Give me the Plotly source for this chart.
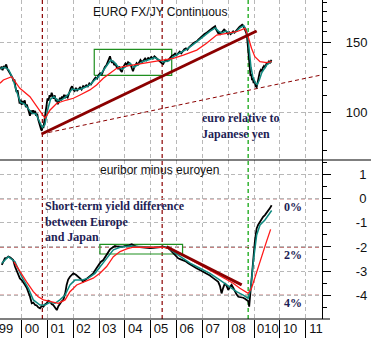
import math
import plotly.graph_objects as go

# ---------------- data (decimal years) ----------------
fx_years = [1999.17,1999.22,1999.26,1999.31,1999.36,1999.40,1999.45,1999.50,1999.55,1999.59,1999.64,1999.68,1999.72,1999.76,1999.80,1999.84,1999.88,1999.92,1999.96,
            2000.00,2000.04,2000.08,2000.12,2000.16,2000.20,2000.24,2000.28,2000.32,2000.36,2000.40,2000.44,2000.48,2000.52,2000.56,2000.60,2000.64,2000.68,2000.72,2000.75,2000.78,2000.81,2000.84,2000.87,2000.90,2000.94,2000.97,
            2001.00,2001.04,2001.08,2001.12,2001.16,2001.20,2001.24,2001.28,2001.32,2001.36,2001.40,2001.44,2001.48,2001.52,2001.56,2001.60,2001.64,2001.68,2001.72,2001.78,2001.84,2001.90,2001.95,
            2002.00,2002.05,2002.10,2002.15,2002.20,2002.26,2002.32,2002.38,2002.44,2002.50,2002.56,2002.62,2002.68,2002.74,2002.80,2002.86,2002.92,2002.98,
            2003.04,2003.10,2003.16,2003.22,2003.28,2003.34,2003.38,2003.42,2003.46,2003.50,2003.54,2003.58,2003.63,2003.68,2003.73,2003.78,2003.83,2003.88,2003.92,2003.97,
            2004.02,2004.07,2004.12,2004.17,2004.22,2004.27,2004.31,2004.35,2004.40,2004.45,2004.50,2004.55,2004.60,2004.66,2004.72,2004.78,2004.84,2004.90,2004.96,
            2005.02,2005.08,2005.14,2005.20,2005.26,2005.32,2005.38,2005.43,2005.48,2005.53,2005.58,2005.64,2005.70,2005.76,2005.82,2005.88,2005.94,
            2006.00,2006.06,2006.12,2006.18,2006.24,2006.30,2006.36,2006.42,2006.48,2006.54,2006.60,2006.66,2006.72,2006.78,2006.84,2006.90,2006.96,
            2007.02,2007.08,2007.14,2007.20,2007.26,2007.32,2007.38,2007.44,2007.49,2007.53,2007.57,2007.61,2007.65,2007.69,2007.74,2007.79,2007.84,2007.89,2007.94,2007.99,
            2008.04,2008.09,2008.14,2008.19,2008.24,2008.29,2008.34,2008.39,2008.44,2008.49,2008.54,2008.58,2008.62,2008.66,2008.70,2008.73,2008.75,2008.77,2008.79,2008.81,2008.83,2008.86,2008.89,2008.92,2008.95,2008.98,
            2009.01,2009.04,2009.07,2009.10,2009.13,2009.16,2009.19,2009.22,2009.26,2009.30,2009.34,2009.38,2009.42,2009.46,2009.50,2009.54,2009.58,2009.62,2009.66,2009.68]
fx_close = [128.5,130.5,127.8,131.0,129.5,132.2,128.6,127.0,125.8,123.5,122.4,119.8,121.0,115.5,112.5,113.8,108.0,105.2,107.6,
            104.5,106.8,105.0,107.2,103.0,104.6,101.5,100.2,98.0,101.0,99.0,101.2,99.5,100.8,98.0,99.2,95.8,93.5,92.0,90.5,89.8,92.5,91.2,94.0,96.0,99.5,104.0,
            108.5,107.0,110.5,109.2,112.0,110.0,108.2,110.4,106.5,108.0,104.8,106.2,108.8,107.0,109.6,108.2,110.8,108.6,110.0,109.0,112.5,115.0,116.4,
            114.0,113.2,115.2,113.5,114.8,115.6,114.2,116.5,115.8,117.0,116.2,118.4,117.6,119.8,121.0,122.4,121.6,124.2,
            125.5,124.6,127.8,130.2,131.5,135.0,137.2,138.6,135.0,133.4,134.8,131.6,132.8,130.0,129.0,130.5,127.6,126.5,129.8,131.5,
            133.0,131.8,134.0,133.2,132.0,129.0,127.0,129.5,131.8,133.2,132.0,134.4,135.6,133.8,135.0,136.8,135.4,137.2,136.6,
            138.0,136.8,138.6,137.4,136.0,135.2,134.0,133.0,132.5,134.6,135.8,134.8,136.2,137.8,139.0,139.6,140.8,
            139.6,141.2,142.4,141.0,143.2,144.4,145.2,144.0,146.0,147.4,148.6,149.8,150.6,151.2,152.6,154.0,155.2,
            156.0,157.8,158.6,160.0,161.4,162.0,163.2,164.2,165.2,162.0,160.4,158.5,160.0,157.8,159.2,160.6,162.0,161.0,159.4,157.8,
            159.2,157.6,158.8,160.2,159.0,160.6,162.0,163.6,164.8,165.6,166.6,165.8,163.8,161.6,158.6,154.5,149.0,143.0,137.0,131.5,127.0,123.5,125.0,120.5,122.0,118.5,
            120.0,117.5,116.2,115.8,118.5,121.5,124.0,126.5,128.0,127.0,129.8,131.0,129.5,132.5,133.8,132.6,134.5,133.6,135.0,134.6]

fx_short_years = [1999.17,1999.35,1999.50,1999.65,1999.80,1999.95,2000.10,2000.25,2000.40,2000.55,2000.70,2000.80,2000.90,2001.00,2001.12,2001.25,2001.40,2001.55,2001.75,2001.95,
                  2002.10,2002.30,2002.50,2002.65,2002.85,2003.05,2003.25,2003.45,2003.60,2003.75,2003.90,2004.05,2004.20,2004.35,2004.50,2004.70,2004.95,2005.15,2005.35,2005.50,2005.70,2005.90,
                  2006.15,2006.40,2006.65,2006.90,2007.10,2007.30,2007.50,2007.62,2007.75,2007.90,2008.08,2008.28,2008.45,2008.60,2008.70,2008.76,2008.82,2008.88,2008.95,2009.05,2009.12,2009.20,2009.30,2009.40,2009.50,2009.60,2009.68]
fx_short = [129.0,130.0,128.0,122.0,113.0,106.0,105.0,102.0,99.5,99.0,94.0,91.5,93.0,101.0,108.0,109.5,107.0,107.5,110.0,114.5,
            114.0,114.5,116.0,117.5,121.0,124.5,130.0,135.5,133.5,130.0,128.5,131.0,133.0,130.0,132.0,134.5,136.0,137.5,135.5,134.0,135.0,138.5,
            141.5,144.5,148.5,153.0,157.5,160.5,163.5,160.5,158.5,160.5,158.5,159.5,163.5,165.5,162.0,155.0,142.0,130.0,123.0,118.5,117.5,120.5,126.0,129.5,132.0,133.5,134.0]

fx_long_years = [1999.16,1999.29,1999.61,1999.93,2000.32,2000.58,2000.84,2000.90,2001.10,2001.36,2001.74,2002.00,2002.26,2002.64,2002.90,2003.16,2003.42,2003.68,2003.93,
                 2004.32,2004.84,2005.48,2005.87,2006.26,2006.78,2007.16,2007.55,2007.94,2008.32,2008.65,2008.77,2008.90,2009.03,2009.23,2009.48,2009.68]
fx_long = [118.4,120.7,123.0,115.0,109.5,103.3,97.5,96.6,101.3,105.4,107.4,108.5,110.6,113.9,117.2,121.9,125.5,129.2,130.4,
           131.7,133.0,135.6,136.9,139.6,143.7,149.5,156.9,158.4,159.9,163.1,155.3,145.2,138.2,134.3,133.5,134.3]

sp_years = [1999.23,1999.30,1999.35,1999.42,1999.48,1999.56,1999.62,1999.67,1999.74,1999.80,1999.87,1999.93,2000.00,2000.06,2000.13,2000.20,2000.26,2000.32,2000.39,2000.45,2000.52,2000.58,2000.64,2000.71,2000.77,2000.84,2000.90,2000.97,
            2001.03,2001.10,2001.16,2001.22,2001.29,2001.36,2001.42,2001.48,2001.55,2001.61,2001.68,2001.74,2001.80,2001.87,2001.94,2002.00,2002.10,2002.19,2002.28,2002.38,2002.48,2002.58,2002.68,2002.77,2002.87,2002.97,
            2003.06,2003.16,2003.26,2003.35,2003.42,2003.48,2003.55,2003.61,2003.71,2003.81,2003.94,2004.07,2004.16,2004.26,2004.36,2004.45,2004.58,2004.71,2004.84,2004.97,2005.10,2005.23,2005.36,2005.48,2005.58,2005.68,2005.77,2005.87,2005.97,
            2006.06,2006.16,2006.26,2006.36,2006.45,2006.55,2006.64,2006.77,2006.90,2007.03,2007.16,2007.29,2007.42,2007.52,2007.61,2007.68,2007.74,2007.80,2007.87,2007.94,2008.00,2008.06,2008.13,2008.20,2008.26,2008.32,2008.39,2008.48,2008.58,2008.66,2008.73,2008.78,2008.81,2008.84,2008.87,2008.90,2008.94,2008.98,
            2009.03,2009.07,2009.10,2009.16,2009.23,2009.29,2009.35,2009.42,2009.48,2009.55,2009.61,2009.68]
sp_diff = [-2.74,-2.55,-2.47,-2.45,-2.40,-2.44,-2.52,-2.54,-2.81,-2.95,-3.16,-3.30,-3.37,-3.45,-3.57,-3.70,-3.85,-4.05,-4.33,-4.30,-4.40,-4.42,-4.50,-4.54,-4.45,-4.47,-4.38,-4.33,
           -4.22,-4.26,-4.36,-4.40,-4.50,-4.61,-4.45,-4.33,-4.25,-4.19,-3.95,-3.57,-3.35,-3.23,-3.15,-3.09,-3.15,-3.23,-3.32,-3.44,-3.35,-3.29,-3.20,-3.09,-2.92,-2.74,
           -2.62,-2.54,-2.36,-2.19,-2.10,-2.05,-1.98,-1.96,-1.98,-1.99,-1.97,-1.96,-1.93,-1.89,-1.94,-1.99,-2.01,-2.03,-2.04,-2.05,-2.04,-2.03,-2.01,-1.99,-2.02,-2.05,-2.14,-2.26,-2.38,
           -2.47,-2.51,-2.54,-2.60,-2.67,-2.74,-2.81,-2.88,-2.95,-3.02,-3.09,-3.18,-3.29,-3.36,-3.44,-3.62,-3.92,-3.70,-3.50,-3.62,-3.78,-3.66,-3.57,-3.70,-3.85,-3.96,-4.06,-4.08,-4.10,-4.15,-4.19,-4.25,-4.47,-4.10,-3.44,-3.10,-2.74,-2.25,
           -1.78,-1.45,-1.23,-1.08,-0.95,-0.85,-0.75,-0.68,-0.60,-0.50,-0.40,-0.27]

sp_short_years = [1999.23,1999.48,1999.74,2000.00,2000.26,2000.45,2000.71,2000.90,2001.10,2001.29,2001.48,2001.68,2001.87,2002.06,2002.32,2002.58,2002.84,2003.03,2003.29,2003.55,2003.81,
                  2004.19,2004.58,2005.10,2005.61,2005.87,2006.13,2006.52,2006.90,2007.29,2007.68,2008.06,2008.32,2008.58,2008.77,2008.87,2008.97,2009.10,2009.23,2009.42,2009.61,2009.68]
sp_short = [-2.67,-2.40,-2.61,-3.23,-3.71,-4.19,-4.40,-4.40,-4.29,-4.33,-4.19,-3.99,-3.57,-3.37,-3.37,-3.29,-3.09,-2.81,-2.47,-2.12,-2.01,
            -1.96,-1.99,-2.01,-2.01,-2.19,-2.40,-2.67,-2.88,-3.09,-3.37,-3.64,-3.85,-3.99,-4.12,-3.71,-2.61,-1.50,-1.09,-0.88,-0.60,-0.49]

sp_long_years = [1999.70,1999.93,2000.19,2000.45,2000.64,2000.84,2001.10,2001.42,2001.68,2001.87,2002.13,2002.45,2002.77,2003.03,2003.29,2003.55,2003.81,2004.07,2004.32,2004.84,2005.48,
                 2005.87,2006.26,2006.64,2007.03,2007.42,2007.81,2008.19,2008.45,2008.77,2008.90,2009.10,2009.29,2009.48,2009.64]
sp_long = [-2.62,-3.02,-3.44,-3.85,-4.06,-4.19,-4.26,-4.33,-4.19,-3.85,-3.57,-3.44,-3.29,-3.09,-2.81,-2.40,-2.19,-2.08,-2.01,-2.01,-2.01,
           -2.12,-2.33,-2.58,-2.81,-3.05,-3.27,-3.50,-3.71,-3.92,-3.71,-3.02,-2.33,-1.78,-1.27]

fx_trend_years = [2000.77, 2009.10]
fx_trend_vals = [88.1, 160.6]
fx_floor_years = [2000.77, 2011.61]
fx_floor_vals = [88.1, 124.3]
sp_trend_years = [2005.61, 2008.52]
sp_trend_vals = [-1.99, -3.57]

fx_box_years = [2002.81, 2005.81]
fx_box_vals = [124.0, 144.3]
sp_box_years = [2003.03, 2006.23]
sp_box_vals = [-2.29, -1.89]

red_event_years = [2000.80, 2005.44]
green_event_years = [2008.77]
rate_levels = [0, -2, -4]
level_labels = ["0%", "2%", "4%"]

year_starts = list(range(1999, 2012))
year_labels = ["99", "00", "01", "02", "03", "04", "05", "06", "07", "08", "010", "10", "11"]

fx_ticks = [100, 150]
fx_minor = [80, 90, 110, 120, 130, 140, 160, 170, 180, 190]
sp_ticks = [-4, -3, -2, -1, 0, 1]
sp_ticktext = ["-4", "-3", "-2", "-1", "\u00a00", "\u00a01"]
sp_minor = [-4.5, -3.5, -2.5, -1.5, -0.5, 0.5, 1.5]

# ---------------- layout constants ----------------
W, H = 371, 338
ML, MR, MT, MB = 0, 49, 0, 19
PW, PH = W - ML - MR, H - MT - MB
SPLIT = (PH - 160) / PH
X_RANGE = [1999.16, 2011.63]
PX_PER_YEAR = PW / (X_RANGE[1] - X_RANGE[0])

DARKRED = "#8b0000"
TEAL = "#0f8a80"
RED = "#ff1a1a"
GREEN = "#1f8f1f"
GRID = "#b8b8b8"
NAVY = "#1e1e55"
SANS = "Arial, Liberation Sans, sans-serif"
SERIF = "Times New Roman, Liberation Serif, serif"

fig = go.Figure()

def line(x, y, color, width, ax, dash="solid"):
    fig.add_trace(go.Scatter(x=x, y=y, mode="lines", line=dict(color=color, width=width, dash=dash),
                             xaxis=ax[0], yaxis=ax[1], showlegend=False, hoverinfo="skip"))

def box(xs, ys, ax):
    line([xs[0], xs[1], xs[1], xs[0], xs[0]], [ys[0], ys[0], ys[1], ys[1], ys[0]], GREEN, 1.2, ax)

TOP = ("x", "y")
BOT = ("x2", "y2")

# top panel
line(fx_floor_years, fx_floor_vals, DARKRED, 1, TOP, dash="4px,3px")
box(fx_box_years, fx_box_vals, TOP)
line(fx_years, fx_close, "#000000", 1.8, TOP)
line(fx_short_years, fx_short, TEAL, 1.5, TOP)
line(fx_long_years, fx_long, RED, 1.3, TOP)
line(fx_trend_years, fx_trend_vals, DARKRED, 3, TOP)

# bottom panel
box(sp_box_years, sp_box_vals, BOT)
line(sp_years, sp_diff, "#000000", 1.8, BOT)
line(sp_short_years, sp_short, TEAL, 1.5, BOT)
line(sp_long_years, sp_long, RED, 1.3, BOT)
line(sp_trend_years, sp_trend_vals, DARKRED, 3, BOT)

shapes = []
for yr in red_event_years:
    shapes.append(dict(type="line", xref="x2", yref="paper", x0=yr, x1=yr, y0=0, y1=1,
                       line=dict(color=DARKRED, width=1.2, dash="4px,3px"), layer="below"))
for yr in green_event_years:
    shapes.append(dict(type="line", xref="x2", yref="paper", x0=yr, x1=yr, y0=0, y1=1,
                       line=dict(color="#00a000", width=1.2, dash="4px,3px"), layer="below"))
for lv in rate_levels:
    shapes.append(dict(type="line", xref="paper", yref="y2", x0=0, x1=1, y0=lv, y1=lv,
                       line=dict(color=DARKRED, width=1.2, dash="4px,3px"), layer="below"))
shapes.append(dict(type="line", xref="paper", yref="paper", x0=0, x1=W / PW, y0=SPLIT, y1=SPLIT,
                   line=dict(color="#000000", width=1.2)))
shapes.append(dict(type="line", xref="paper", yref="paper", x0=0, x1=1.025, y0=0, y1=0,
                   line=dict(color="#000000", width=1.2)))

def px_x(px):
    return px / PW

def px_y(py):
    return (PH - py) / PH

annotations = [
    dict(text="EURO FX/JY Continuous", x=px_x(92), y=px_y(12), xanchor="left", yanchor="middle",
         font=dict(family=SANS, size=12, color="#111111")),
    dict(text="euribor minus euroyen", x=px_x(99), y=px_y(170), xanchor="left", yanchor="middle",
         font=dict(family=SANS, size=12, color="#111111")),
    dict(text="<b>euro relative to<br>Japanese yen</b>", x=px_x(201), y=px_y(125.5), xanchor="left",
         yanchor="middle", align="left", font=dict(family=SERIF, size=12, color=NAVY)),
    dict(text="<b>Short-term yield difference<br>between Europe<br>and Japan</b>", x=px_x(43.5), y=px_y(221.7),
         xanchor="left", yanchor="middle", align="left", font=dict(family=SERIF, size=12, color=NAVY)),
]
for lv, lab in zip(rate_levels, level_labels):
    annotations.append(dict(text="<b>%s</b>" % lab, x=px_x(283), xref="paper", y=lv, yref="y2",
                            yshift=-8, xanchor="left", yanchor="middle",
                            font=dict(family=SERIF, size=12, color=NAVY)))
for a in annotations:
    a.setdefault("xref", "paper")
    a.setdefault("yref", "paper")
    a["showarrow"] = False
    a["borderpad"] = 0

# year label centres: label starts ~3px after the year boundary
label_pos = [ys + (3 + 3.6 * len(lab)) / PX_PER_YEAR for ys, lab in zip(year_starts, year_labels)]

fig.update_layout(
    width=W, height=H, margin=dict(l=ML, r=MR, t=MT, b=MB),
    paper_bgcolor="white", plot_bgcolor="white", showlegend=False,
    shapes=shapes, annotations=annotations,
    xaxis=dict(range=X_RANGE, anchor="y", matches="x2", showticklabels=False, ticks="",
               showline=False, zeroline=False, showgrid=False,
               minor=dict(tickmode="array", tickvals=year_starts, showgrid=True, gridcolor=GRID,
                          griddash="4px,3px", gridwidth=1)),
    xaxis2=dict(range=X_RANGE, anchor="y2", showline=False, zeroline=False, showgrid=False,
                tickmode="array", tickvals=label_pos, ticktext=year_labels, ticks="",
                ticklabeloverflow="allow",
                tickfont=dict(family=SANS, size=13, color="#111111"),
                minor=dict(tickmode="array", tickvals=year_starts, showgrid=True, gridcolor=GRID,
                           griddash="4px,3px", gridwidth=1, ticks="outside", ticklen=19,
                           tickcolor="#000000", tickwidth=1.2)),
    yaxis=dict(type="log", domain=[SPLIT, 1], range=[math.log10(75.7), math.log10(192.4)], side="right",
               anchor="x", showline=True, linecolor="#000000", linewidth=1.2, zeroline=False,
               tickmode="array", tickvals=fx_ticks, ticktext=[str(v) for v in fx_ticks],
               ticks="outside", ticklen=8, tickcolor="#000000", ticklabelstandoff=12,
               showgrid=True, gridcolor=GRID, griddash="4px,3px",
               tickfont=dict(family=SANS, size=13, color="#111111"),
               minor=dict(tickmode="array", tickvals=fx_minor, ticks="outside", ticklen=4,
                          tickcolor="#000000", showgrid=False)),
    yaxis2=dict(domain=[0, SPLIT], range=[-4.98, 1.60], side="right", anchor="x2",
                showline=True, linecolor="#000000", linewidth=1.2, zeroline=False,
                tickmode="array", tickvals=sp_ticks, ticktext=sp_ticktext,
                ticks="outside", ticklen=8, tickcolor="#000000", ticklabelstandoff=22,
                showgrid=True, gridcolor=GRID, griddash="4px,3px",
                tickfont=dict(family=SANS, size=13, color="#111111"),
                minor=dict(tickmode="array", tickvals=sp_minor, ticks="outside", ticklen=4,
                           tickcolor="#000000", showgrid=False)),
)

fig.write_html("out.html")
